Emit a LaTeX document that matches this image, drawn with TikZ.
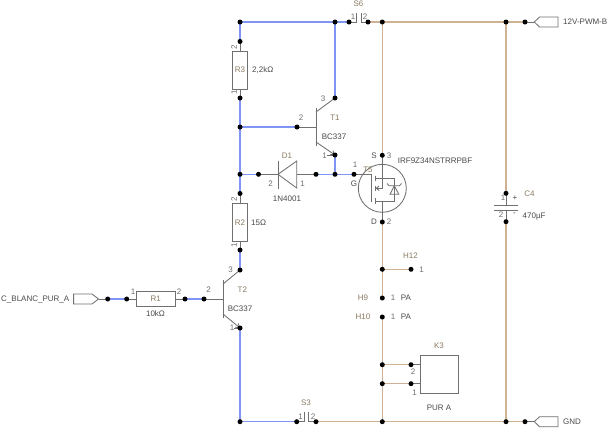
\documentclass[tikz,border=0pt]{standalone}
\usepackage{fontspec}
\setmainfont{Liberation Sans}
\usetikzlibrary{arrows.meta}
\definecolor{wblue}{HTML}{8094F4}
\definecolor{wtan}{HTML}{D0B193}
\definecolor{comp}{HTML}{707070}
\definecolor{refc}{HTML}{8A7A62}
\definecolor{valc}{HTML}{4A4A4A}
\tikzset{
  bw/.style={draw=wblue,line width=1.05pt},
  tw/.style={draw=wtan,line width=1.05pt},
  cl/.style={draw=comp,line width=0.85pt},
  jn/.style={circle,fill=black,draw=none,inner sep=0pt,minimum size=5pt},
  res/.style={rectangle,draw=comp,line width=0.85pt,inner sep=0pt,text=refc,font=\fontsize{8}{9}\selectfont},
  lbl/.style={inner sep=0pt,font=\fontsize{8}{9}\selectfont},
  rf/.style={lbl,text=refc},
  vl/.style={lbl,text=valc},
  pn/.style={lbl,text=comp},
}
\begin{document}
\begin{tikzpicture}[x=1pt,y=-1pt]
\useasboundingbox (0,0) rectangle (610,429);
\fill[white] (0,0) rectangle (610,429);

% junction coordinates, wires are drawn first and the dots on top
\foreach \n/\x/\y in {
 a/240/22, b/335/22, sa/349/22, sb/368/22, c/382.3/22, d/506/22, pa/525/22,
 rthreet/240/41.5, rthreeb/240/98, e/240/127, tob/297/127, toc/335/98, toe/335/155,
 f/240/174.3, dia/258.5/174.3, dib/316/174.3, g/335/174.3, gp/354/174.3,
 sp/382.3/155.3, dp/382.3/222,
 rtwot/240/193.5, rtwob/240/250, ttc/240/270, ttb/204/299, tte/240/328,
 ina/107.7/299, ra/126.7/299, rb/185/299,
 ca/506/193.3, cb/506/221.7,
 hta/382.3/269.3, htb/411/269.3, hn/382.3/298, ht/382.3/317,
 ka/382.3/364.7, kb/382.3/383.7, kc/411/364.7, kd/411/383.7,
 h/240/421.7, ssa/296.7/421.7, ssb/316/421.7, i/382.3/421.7, j/506/421.7, pb/525/421.7}
 { \coordinate (\n) at (\x,\y); }

% components as nodes
\node[res,minimum width=14.5pt,minimum height=38pt] (R3) at (240,70) {R3};
\node[res,minimum width=14.5pt,minimum height=38pt] (R2) at (240,222.3) {R2};
\node[res,minimum width=39pt,minimum height=14.5pt] (R1) at (155.8,299) {R1};
\node[rectangle,draw=comp,line width=0.85pt,minimum width=38.2pt,minimum height=38.2pt,inner sep=0pt] (K3) at (439.4,374.4) {};

% resistor pins
\draw[cl] (rthreet) -- (R3.north);
\draw[cl] (rthreeb) -- (R3.south);
\draw[cl] (rtwot) -- (R2.north);
\draw[cl] (rtwob) -- (R2.south);
\draw[cl] (ra) -- (R1.west);
\draw[cl] (rb) -- (R1.east);
\draw[cl] (kc) -- (K3.west |- kc);
\draw[cl] (kd) -- (K3.west |- kd);

% blue wires
\draw[bw] (rthreet) -- (a) -- (b) -- (sa);
\draw[bw] (b) -- (toc);
\draw[bw] (rthreeb) -- (rtwot);
\draw[bw] (e) -- (tob);
\draw[bw] (f) -- (dia);
\draw[bw] (dib) -- (gp);
\draw[bw] (toe) -- (g);
\draw[bw] (rtwob) -- (ttc);
\draw[bw] (tte) -- (h) -- (ssa);
\draw[bw] (ina) -- (ra);
\draw[bw] (rb) -- (ttb);

% tan wires
\draw[tw] (sb) -- (pa);
\draw[tw] (c) -- (sp);
\draw[tw] (dp) -- (hn);
\draw[tw] (hta) -- (htb);
\draw[tw] (ht) -- (i);
\draw[tw] (ka) -- (kc);
\draw[tw] (kb) -- (kd);
\draw[tw] (d) -- (ca);
\draw[tw] (cb) -- (j);
\draw[tw] (ssb) -- (pb);

% switches
\draw[cl] (sa) -- (356.7,22) -- (356.7,13);
\draw[cl] (sb) -- (361,22) -- (361,13);
\draw[cl] (ssa) -- (304,421.7) -- (304,412);
\draw[cl] (ssb) -- (308.4,421.7) -- (308.4,412);

% T1
\draw[cl] (316,108) -- (316,146);
\draw[cl] (tob) -- (316,127);
\draw[cl] (316,112) -- (toc);
\draw[cl,-{Straight Barb[length=3.5pt,width=5pt]}] (316,142) -- (toe);
\draw[cl] (326.5,155) -- (toe);

% T2
\draw[cl] (223,280) -- (223,318);
\draw[cl] (ttb) -- (223,299);
\draw[cl] (223,284) -- (ttc);
\draw[cl,-{Straight Barb[length=3.5pt,width=5pt]}] (223,314) -- (tte);
\draw[cl] (233.5,328) -- (tte);

% diode
\draw[cl] (dia) -- (278,174.3);
\draw[cl] (278,160.5) -- (278,188.5);
\draw[cl] (278,174.3) -- (296.7,161) -- (296.7,188) -- cycle;
\draw[cl] (296.7,174.3) -- (dib);

% MOSFET
\draw[cl] (382.3,188.3) circle[radius=24];
\draw[cl] (gp) -- (371,174.3) -- (371,202.3);
\draw[cl] (375,175.7) -- (375,181);
\draw[cl] (375,186) -- (375,190.5);
\draw[cl] (375,198) -- (375,203.7);
\draw[cl] (sp) -- (382.3,178.3) -- (375,178.3);
\draw[cl] (dp) -- (382.3,201) -- (375,201);
\draw[cl,-{Straight Barb[length=3pt,width=4.5pt]}] (382.3,178.3) -- (382.3,188.3) -- (375.5,188.3);
\draw[cl] (382.3,178.3) -- (394.3,178.3) -- (394.3,201) -- (382.3,201);
\draw[cl] (394.3,185.7) -- (390,194.3) -- (398.8,194.3) -- cycle;
\draw[cl] (387,183.5) -- (389,185.7) -- (399.5,185.7) -- (401.5,183.5);

% capacitor
\draw[cl] (ca) -- (506,205.3);
\draw[cl] (cb) -- (506,210);
\draw[cl] (494,205.3) -- (518,205.3);
\draw[cl] (494,210) -- (518,210);

% ports
\draw[cl] (pa) -- (534.3,22);
\draw[cl,fill=white] (534.3,22) -- (539.5,17) -- (558,17) -- (558,27) -- (539.5,27) -- cycle;
\draw[cl] (pb) -- (534.3,421.7);
\draw[cl,fill=white] (534.3,421.7) -- (539.5,416.7) -- (558,416.7) -- (558,426.7) -- (539.5,426.7) -- cycle;
\draw[cl] (ina) -- (98.5,299);
\draw[cl,fill=white] (98.5,299) -- (92,304) -- (73.6,304) -- (73.6,294) -- (92,294) -- cycle;

% dots
\foreach \n in {a,b,sa,sb,c,d,pa,rthreet,rthreeb,e,tob,toc,toe,f,dia,dib,g,gp,sp,dp,rtwot,rtwob,ttc,ttb,tte,ina,ra,rb,ca,cb,hta,htb,hn,ht,ka,kb,kc,kd,h,ssa,ssb,i,j,pb}
 { \node[jn] (dot\n) at (\n) {}; }

% labels
\node[vl,anchor=west] (lin) at (1,299) {C\_BLANC\_PUR\_A};
\node[vl,anchor=west] (lp) at (563,22) {12V-PWM-B};
\node[vl,anchor=west] (lg) at (563,421.7) {GND};

\node[rf] (lS6) at (358.5,3.5) {S6};
\node[pn] (s61) at (353,16.5) {1};
\node[pn] (s62) at (365,16.5) {2};
\node[rf] (lS3) at (306,403) {S3};
\node[pn] (s31) at (300.7,417) {1};
\node[pn] (s32) at (313,417) {2};

\node[pn,rotate=90] (r3p2) at (234,47) {2};
\node[pn,rotate=90] (r3p1) at (234,92) {1};
\node[vl,anchor=west] (v3) at (252,70) {2,2kΩ};
\node[pn,rotate=90] (r2p2) at (234,199) {2};
\node[pn,rotate=90] (r2p1) at (234,245) {1};
\node[vl,anchor=west] (v2) at (251,222.5) {15Ω};

\node[rf] (lT1) at (335,117.5) {T1};
\node[pn] (t1b) at (301,118) {2};
\node[pn] (t1c) at (323,98.5) {3};
\node[pn] (t1e) at (324.5,155.5) {1};
\node[vl] (v1) at (334,136.5) {BC337};

\node[rf] (lD1) at (287,155.5) {D1};
\node[pn] (d2) at (270.5,184) {2};
\node[pn] (d1) at (302.5,184) {1};
\node[vl] (vd) at (287,198.5) {1N4001};

\node[rf] (lT2) at (242.3,289.5) {T2};
\node[pn] (t2b) at (208.5,289.5) {2};
\node[pn] (t2c) at (230.5,270) {3};
\node[pn] (t2e) at (232,328) {1};
\node[vl] (v22) at (240,308.5) {BC337};

\node[pn] (r1a) at (133,292) {1};
\node[pn] (r1b) at (179,292) {2};
\node[vl] (vr1) at (155.5,313.5) {10kΩ};

\node[lbl,text=valc] (mS) at (374,156) {S};
\node[pn] (m3) at (389,156) {3};
\node[lbl,text=valc] (mG) at (354,184) {G};
\node[pn] (m1) at (355,165) {1};
\node[lbl,text=valc] (mD) at (374,222) {D};
\node[pn] (m2) at (389,222) {2};
\node[vl,anchor=west] (vm) at (397.7,160.5) {IRF9Z34NSTRRPBF};
\node[rf] (lT5) at (368,170) {T5};

\node[rf] (lH12) at (410.5,255.7) {H12};
\node[pn] (h121) at (421.7,269.7) {1};
\node[rf] (lH9) at (363,298) {H9};
\node[pn] (h91) at (393,298) {1};
\node[vl] (h9v) at (406,298) {PA};
\node[rf] (lH10) at (363,317) {H10};
\node[pn] (h101) at (393,317) {1};
\node[vl] (h10v) at (406,317) {PA};

\node[rf] (lK3) at (439,346) {K3};
\node[pn] (k2) at (413,372) {2};
\node[pn] (k1) at (414.7,393) {1};
\node[vl] (vk) at (439,407.5) {PUR A};

\node[rf] (lC4) at (529.5,193.5) {C4};
\node[pn] (c1) at (503,198) {1};
\node[vl] (cplus) at (515,198.5) {+};
\node[pn] (c2) at (501,215) {2};
\node[vl] (cminus) at (514.5,214) {-};
\node[vl,anchor=west] (vc) at (522.5,217) {470µF};
\end{tikzpicture}
\end{document}
